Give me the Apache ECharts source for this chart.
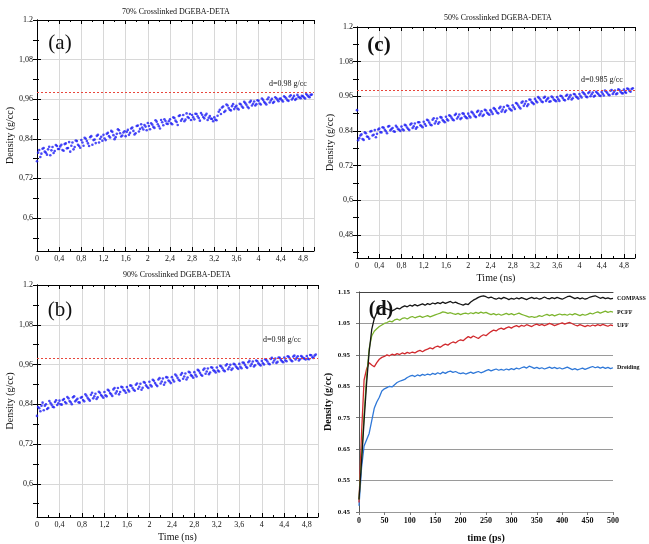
<!DOCTYPE html>
<html><head><meta charset="utf-8">
<script src="https://cdn.jsdelivr.net/npm/echarts@6/dist/echarts.min.js"></script>
<style>html,body{margin:0;padding:0;background:#fff}#c{width:649px;height:544px}</style>
</head><body><div id="c"></div>
<script>
// ---------- data: panels (a), (b), (c): density vs time (ns) ----------
// first reading set: every 0.04 ns starting at 0; second set: every 0.04 ns starting at 0.02
const densA = [
0.772,0.806,0.795,0.812,0.798,0.808,0.790,0.815,0.803,0.818,
0.809,0.822,0.804,0.826,0.812,0.801,0.829,0.815,0.833,0.818,
0.836,0.819,0.840,0.826,0.845,0.822,0.838,0.849,0.829,0.846,
0.852,0.836,0.858,0.844,0.861,0.839,0.855,0.866,0.847,0.859,
0.848,0.867,0.858,0.874,0.853,0.879,0.862,0.884,0.868,0.877,
0.888,0.869,0.883,0.873,0.892,0.878,0.897,0.881,0.894,0.885,
0.899,0.884,0.903,0.891,0.909,0.895,0.912,0.898,0.906,0.915,
0.912,0.899,0.915,0.903,0.918,0.906,0.911,0.897,0.909,0.900,
0.905,0.896,0.922,0.915,0.938,0.925,0.941,0.928,0.939,0.930,
0.940,0.929,0.944,0.934,0.948,0.937,0.951,0.941,0.953,0.945,
0.955,0.944,0.958,0.948,0.960,0.950,0.961,0.952,0.963,0.954,
0.962,0.953,0.966,0.957,0.968,0.959,0.970,0.961,0.967,0.963,
0.969,0.962,0.972,0.966,0.974];
const densA2 = [
0.798,0.785,0.810,0.801,0.792,0.816,0.805,0.797,0.821,0.809,
0.817,0.806,0.824,0.811,0.830,0.819,0.808,0.835,0.822,0.813,
0.829,0.843,0.833,0.818,0.848,0.836,0.827,0.852,0.840,0.834,
0.841,0.855,0.848,0.864,0.851,0.845,0.869,0.857,0.850,0.863,
0.861,0.852,0.871,0.864,0.857,0.880,0.870,0.874,0.882,0.866,
0.879,0.887,0.876,0.896,0.884,0.871,0.890,0.899,0.886,0.893,
0.887,0.905,0.895,0.882,0.911,0.900,0.893,0.917,0.903,0.897,
0.905,0.916,0.908,0.895,0.913,0.902,0.916,0.904,0.901,0.893,
0.898,0.910,0.928,0.935,0.921,0.944,0.933,0.926,0.945,0.936,
0.932,0.946,0.938,0.952,0.943,0.933,0.955,0.946,0.941,0.957,
0.947,0.962,0.952,0.944,0.965,0.956,0.949,0.966,0.958,0.961,
0.957,0.969,0.962,0.955,0.972,0.964,0.958,0.973,0.965,0.970,
0.965,0.976,0.968,0.973];
const densB = [
0.805,0.828,0.836,0.822,0.840,0.829,0.844,0.833,0.847,0.838,
0.851,0.839,0.856,0.843,0.858,0.846,0.861,0.849,0.857,0.845,
0.862,0.849,0.866,0.855,0.869,0.858,0.872,0.861,0.875,0.864,
0.877,0.864,0.881,0.870,0.885,0.873,0.889,0.877,0.891,0.880,
0.892,0.879,0.896,0.884,0.899,0.887,0.902,0.890,0.905,0.893,
0.908,0.894,0.911,0.899,0.915,0.903,0.918,0.906,0.921,0.909,
0.922,0.909,0.926,0.914,0.929,0.917,0.933,0.921,0.936,0.925,
0.937,0.924,0.941,0.929,0.944,0.932,0.948,0.936,0.950,0.940,
0.951,0.939,0.954,0.943,0.957,0.946,0.959,0.948,0.960,0.950,
0.962,0.949,0.965,0.953,0.967,0.956,0.969,0.958,0.970,0.960,
0.971,0.960,0.974,0.963,0.977,0.966,0.978,0.968,0.980,0.970,
0.981,0.970,0.983,0.973,0.984,0.975,0.985,0.976,0.983,0.978,
0.986,0.976,0.988,0.980,0.990];
const densB2 = [
0.832,0.819,0.845,0.836,0.826,0.850,0.839,0.831,0.852,0.843,
0.840,0.853,0.847,0.862,0.850,0.840,0.864,0.853,0.846,0.860,
0.853,0.870,0.860,0.851,0.875,0.864,0.856,0.878,0.868,0.860,
0.867,0.884,0.874,0.865,0.889,0.879,0.870,0.893,0.883,0.875,
0.884,0.897,0.889,0.881,0.903,0.893,0.884,0.907,0.897,0.889,
0.898,0.914,0.904,0.895,0.919,0.909,0.899,0.922,0.912,0.904,
0.914,0.930,0.920,0.911,0.934,0.924,0.915,0.938,0.928,0.920,
0.929,0.944,0.935,0.926,0.948,0.939,0.931,0.952,0.943,0.936,
0.942,0.956,0.949,0.940,0.961,0.952,0.944,0.962,0.954,0.947,
0.953,0.966,0.959,0.950,0.971,0.962,0.954,0.972,0.964,0.957,
0.964,0.976,0.969,0.961,0.980,0.972,0.965,0.981,0.974,0.967,
0.973,0.985,0.978,0.970,0.987,0.980,0.972,0.986,0.979,0.975,
0.978,0.989,0.982,0.987];
const densC = [
0.912,0.815,0.828,0.809,0.832,0.819,0.838,0.824,0.843,0.830,
0.848,0.835,0.851,0.839,0.855,0.842,0.850,0.837,0.853,0.844,
0.855,0.842,0.859,0.847,0.862,0.850,0.866,0.853,0.870,0.857,
0.872,0.858,0.876,0.862,0.879,0.866,0.883,0.870,0.886,0.874,
0.889,0.876,0.892,0.880,0.895,0.883,0.897,0.885,0.899,0.887,
0.900,0.887,0.903,0.891,0.906,0.894,0.908,0.896,0.911,0.899,
0.912,0.899,0.916,0.904,0.919,0.907,0.923,0.911,0.926,0.914,
0.929,0.916,0.934,0.922,0.938,0.927,0.943,0.932,0.948,0.937,
0.951,0.939,0.953,0.942,0.955,0.944,0.954,0.943,0.956,0.946,
0.957,0.944,0.960,0.948,0.962,0.951,0.964,0.953,0.966,0.956,
0.968,0.956,0.970,0.959,0.971,0.960,0.973,0.962,0.972,0.963,
0.975,0.963,0.977,0.966,0.979,0.968,0.980,0.970,0.982,0.971,
0.983,0.972,0.985,0.976,0.988];
const densC2 = [
0.808,0.824,0.812,0.835,0.821,0.813,0.840,0.827,0.818,0.845,
0.836,0.853,0.844,0.832,0.857,0.847,0.839,0.858,0.846,0.840,
0.846,0.861,0.852,0.843,0.866,0.856,0.848,0.870,0.860,0.853,
0.864,0.879,0.869,0.860,0.884,0.873,0.865,0.888,0.878,0.870,
0.880,0.894,0.886,0.877,0.899,0.889,0.881,0.901,0.891,0.884,
0.892,0.906,0.897,0.888,0.910,0.900,0.892,0.913,0.903,0.896,
0.906,0.919,0.910,0.901,0.924,0.914,0.906,0.928,0.918,0.911,
0.922,0.937,0.928,0.918,0.942,0.934,0.926,0.949,0.940,0.933,
0.944,0.957,0.948,0.940,0.958,0.950,0.941,0.959,0.949,0.943,
0.950,0.962,0.954,0.946,0.965,0.957,0.949,0.968,0.959,0.952,
0.961,0.974,0.966,0.957,0.975,0.967,0.959,0.976,0.968,0.961,
0.969,0.980,0.972,0.964,0.982,0.974,0.967,0.984,0.976,0.970,
0.975,0.987,0.979,0.985];
const targetA = 0.98, targetB = 0.98, targetC = 0.985;
const titleA = '70% Crosslinked DGEBA-DETA';
const titleB = '90% Crosslinked DGEBA-DETA';
const titleC = '50% Crosslinked DGEBA-DETA';
const noteA = 'd=0.98 g/cc', noteB = 'd=0.98 g/cc', noteC = 'd=0.985 g/cc';
const xTickLabels = ['0','0,4','0,8','1,2','1,6','2','2,4','2,8','3,2','3,6','4','4,4','4,8'];
const yTickValsAB = [0.6,0.72,0.84,0.96,1.08,1.2];
const yTickLabelsA = ['0,6','0,72','0,84','0,96','1,08','1.2'];
const yTickLabelsB = ['0,6','0,72','0,84','0,96','1,08','1.2'];
const yMinorAB = [0.54,0.66,0.78,0.9,1.02,1.14];
const yTickValsC = [0.48,0.6,0.72,0.84,0.96,1.08,1.2];
const yTickLabelsC = ['0,48','0,6','0.72','0.84','0.96','1.08','1.2'];
const yMinorC = [0.42,0.54,0.66,0.78,0.9,1.02,1.14];

// ---------- data: panel (d): density vs time (ps), every 5 ps ----------
const compass = [
0.490,0.610,0.740,0.860,0.960,1.030,1.065,1.085,1.097,1.102,
1.100,1.096,1.093,1.090,1.094,1.099,1.096,1.102,1.106,1.103,
1.108,1.105,1.110,1.106,1.109,1.112,1.108,1.113,1.110,1.115,
1.112,1.116,1.113,1.118,1.114,1.117,1.120,1.115,1.118,1.114,
1.111,1.108,1.112,1.110,1.118,1.124,1.128,1.133,1.136,1.138,
1.135,1.131,1.134,1.130,1.127,1.131,1.128,1.133,1.130,1.126,
1.130,1.127,1.131,1.128,1.132,1.129,1.126,1.130,1.133,1.129,
1.131,1.127,1.130,1.134,1.130,1.128,1.132,1.129,1.133,1.130,
1.127,1.131,1.135,1.137,1.133,1.129,1.132,1.128,1.131,1.127,
1.130,1.134,1.136,1.138,1.134,1.130,1.133,1.129,1.131,1.128,
1.130];
const pcff = [
0.490,0.620,0.760,0.880,0.970,1.010,1.025,1.033,1.040,1.045,
1.050,1.053,1.057,1.055,1.061,1.064,1.060,1.066,1.068,1.064,
1.069,1.072,1.068,1.071,1.073,1.069,1.072,1.075,1.071,1.074,
1.077,1.080,1.083,1.087,1.085,1.082,1.084,1.081,1.079,1.082,
1.078,1.081,1.083,1.080,1.084,1.081,1.085,1.082,1.086,1.083,
1.085,1.081,1.078,1.081,1.077,1.080,1.076,1.079,1.082,1.078,
1.081,1.077,1.080,1.083,1.079,1.076,1.073,1.070,1.072,1.069,
1.071,1.075,1.072,1.076,1.079,1.075,1.078,1.074,1.077,1.080,
1.077,1.079,1.076,1.080,1.077,1.081,1.078,1.075,1.079,1.076,
1.079,1.083,1.080,1.084,1.087,1.083,1.086,1.089,1.085,1.088,
1.086];
const uff = [
0.480,0.700,0.870,0.905,0.925,0.918,0.912,0.925,0.936,0.942,
0.945,0.950,0.947,0.952,0.949,0.954,0.951,0.956,0.953,0.958,
0.955,0.959,0.956,0.961,0.964,0.960,0.965,0.968,0.972,0.969,
0.975,0.978,0.974,0.980,0.984,0.981,0.987,0.991,0.988,0.994,
0.998,0.995,1.002,1.008,1.004,1.010,1.006,1.002,1.009,1.014,
1.011,1.018,1.024,1.029,1.026,1.032,1.035,1.031,1.036,1.039,
1.035,1.040,1.043,1.039,1.044,1.041,1.046,1.043,1.040,1.045,
1.048,1.044,1.047,1.043,1.046,1.050,1.047,1.043,1.046,1.049,
1.052,1.048,1.051,1.053,1.049,1.045,1.042,1.046,1.043,1.040,
1.044,1.041,1.045,1.042,1.046,1.043,1.047,1.044,1.041,1.045,
1.043];
const dreiding = [
0.470,0.590,0.660,0.680,0.700,0.740,0.780,0.800,0.815,0.835,
0.842,0.846,0.850,0.848,0.855,0.862,0.866,0.869,0.872,0.878,
0.882,0.885,0.881,0.886,0.883,0.888,0.885,0.889,0.886,0.891,
0.888,0.893,0.889,0.895,0.891,0.896,0.898,0.894,0.897,0.893,
0.890,0.893,0.889,0.892,0.895,0.891,0.894,0.897,0.893,0.896,
0.900,0.903,0.899,0.902,0.905,0.901,0.904,0.901,0.905,0.902,
0.906,0.903,0.908,0.905,0.909,0.912,0.908,0.914,0.911,0.907,
0.910,0.906,0.909,0.905,0.908,0.911,0.907,0.910,0.906,0.909,
0.905,0.908,0.911,0.907,0.903,0.906,0.902,0.905,0.908,0.904,
0.907,0.910,0.913,0.909,0.912,0.908,0.911,0.907,0.910,0.906,
0.909];
const seriesNamesD = ['COMPASS','PCFF','UFF','Dreiding'];
const yTickValsD = [0.45,0.55,0.65,0.75,0.85,0.95,1.05,1.15];
const yTickLabelsD = ['0.45','0.55','0.65','0.75','0.85','0.95','1.05','1.15'];
const xTickLabelsD = ['0','50','100','150','200','250','300','350','400','450','500'];

// ---------- chart ----------
const SERIF = 'Liberation Serif';
const pairsNs = (arr, start) => arr.map((v, i) => [Math.round(start * 100 + i * 4) / 100, v]);
const pairsPs = arr => arr.map((v, i) => [i * 5, v]);
const fmtFrom = (vals, labels) => v => {
  const i = vals.findIndex(x => Math.abs(x - v) < 1e-6);
  return i >= 0 ? labels[i] : '';
};

const grids = [
  {left: 37, top: 20, width: 277, height: 231},   // (a)
  {left: 37, top: 285, width: 281, height: 232},  // (b)
  {left: 357, top: 27, width: 278, height: 231},  // (c)
  {left: 359, top: 292, width: 254, height: 223}  // (d)
];
const xAxes = [], yAxes = [], series = [];

function scatterPanel(g, dens, dens2, target, yMin, yVals, yLabels, yMinor, xName) {
  const axisLine = {show: true, lineStyle: {color: '#000', width: 1}};
  xAxes.push({
    gridIndex: g, type: 'value', min: 0, max: 5, interval: 0.4, position: 'bottom',
    name: xName, nameLocation: 'middle', nameGap: 15,
    nameTextStyle: {fontFamily: SERIF, fontSize: 10, color: '#111'},
    axisLine, axisTick: {inside: true, length: 4, lineStyle: {color: '#000'}},
    minorTick: {show: true, splitNumber: 2, length: 2, lineStyle: {color: '#000'}},
    axisLabel: {fontFamily: SERIF, fontSize: 8, color: '#111', margin: 4,
      showMaxLabel: false, hideOverlap: false,
      formatter: v => { const i = Math.round(v / 0.4); return Math.abs(v - i * 0.4) < 1e-6 && i < xTickLabels.length ? xTickLabels[i] : ''; }},
    splitLine: {show: true, lineStyle: {color: '#d8d8d8', width: 1}}
  });
  xAxes.push({
    gridIndex: g, type: 'value', min: 0, max: 5, interval: 0.4, position: 'top',
    axisLine, axisTick: {inside: true, length: 4, lineStyle: {color: '#000'}},
    minorTick: {show: true, splitNumber: 2, length: 2, lineStyle: {color: '#000'}},
    axisLabel: {show: false}, splitLine: {show: false}
  });
  yAxes.push({
    gridIndex: g, type: 'value', min: yMin, max: 1.2, position: 'left',
    name: 'Density (g/cc)', nameLocation: 'middle', nameGap: 20,
    nameTextStyle: {fontFamily: SERIF, fontSize: 10, color: '#111'},
    axisLine, axisTick: {inside: true, length: 4, customValues: yVals, lineStyle: {color: '#000'}},
    axisLabel: {fontFamily: SERIF, fontSize: 8, color: '#111', margin: 4, customValues: yVals,
      formatter: fmtFrom(yVals, yLabels)},
    splitLine: {show: true, lineStyle: {color: '#d8d8d8', width: 1}}
  });
  yAxes.push({
    gridIndex: g, type: 'value', min: yMin, max: 1.2, position: 'right',
    axisLine, axisTick: {inside: true, length: 4, customValues: yVals.concat(yMinor), lineStyle: {color: '#000'}},
    axisLabel: {show: false}, splitLine: {show: false}
  });
  yAxes.push({
    gridIndex: g, type: 'value', min: yMin, max: 1.2, position: 'left',
    axisLine: {show: false}, axisTick: {inside: true, length: 2, customValues: yMinor, lineStyle: {color: '#000'}},
    axisLabel: {show: false}, splitLine: {show: false}
  });
  const base = {type: 'scatter', xAxisIndex: 2 * g, yAxisIndex: 3 * g, symbol: 'circle',
    symbolSize: 2.6, itemStyle: {color: '#1e1ef5'}, silent: true};
  series.push(Object.assign({}, base, {data: pairsNs(dens2, 0.02)}));
  series.push(Object.assign({}, base, {data: pairsNs(dens, 0),
    markLine: {silent: true, symbol: 'none', label: {show: false},
      lineStyle: {color: '#e8463c', type: [2, 2], width: 1},
      data: [{yAxis: target}]}}));
}

scatterPanel(0, densA, densA2, targetA, 0.5, yTickValsAB, yTickLabelsA, yMinorAB, '');
scatterPanel(1, densB, densB2, targetB, 0.5, yTickValsAB, yTickLabelsB, yMinorAB, 'Time (ns)');
scatterPanel(2, densC, densC2, targetC, 0.4, yTickValsC, yTickLabelsC, yMinorC, 'Time (ns)');

// panel (d)
xAxes.push({
  gridIndex: 3, type: 'value', min: 0, max: 500, interval: 50, position: 'bottom',
  name: 'time (ps)', nameLocation: 'middle', nameGap: 21,
  nameTextStyle: {fontFamily: SERIF, fontSize: 10, fontWeight: 'bold', color: '#111'},
  axisLine: {show: true, lineStyle: {color: '#999'}},
  axisTick: {show: true, inside: false, length: 3, lineStyle: {color: '#777'}},
  axisLabel: {fontFamily: SERIF, fontSize: 8, fontWeight: 'bold', color: '#111', margin: 5,
    formatter: v => xTickLabelsD[Math.round(v / 50)] || ''},
  splitLine: {show: false}
});
xAxes.push({
  gridIndex: 3, type: 'value', min: 0, max: 500, position: 'top',
  axisLine: {show: true, lineStyle: {color: '#444'}}, axisTick: {show: false},
  axisLabel: {show: false}, splitLine: {show: false}
});
yAxes.push({
  gridIndex: 3, type: 'value', min: 0.45, max: 1.15, position: 'left',
  name: 'Density (g/cc)', nameLocation: 'middle', nameGap: 22,
  nameTextStyle: {fontFamily: SERIF, fontSize: 10, fontWeight: 'bold', color: '#111'},
  axisLine: {show: true, lineStyle: {color: '#aaa'}},
  axisTick: {show: true, inside: false, length: 3, customValues: yTickValsD, lineStyle: {color: '#777'}},
  axisLabel: {fontFamily: SERIF, fontSize: 7, fontWeight: 'bold', color: '#111', margin: 9,
    customValues: yTickValsD, formatter: fmtFrom(yTickValsD, yTickLabelsD)},
  splitLine: {show: true, lineStyle: {color: '#9a9a9a', width: 1}}
});
yAxes.push({
  gridIndex: 3, type: 'value', min: 0.45, max: 1.15, position: 'right',
  axisLine: {show: true, lineStyle: {color: '#555'}}, axisTick: {show: false},
  axisLabel: {show: false}, splitLine: {show: false}
});
const dSeries = [
  {name: seriesNamesD[3], data: dreiding, color: '#2f78d8'},
  {name: seriesNamesD[2], data: uff, color: '#d12a2e'},
  {name: seriesNamesD[1], data: pcff, color: '#7db52f'},
  {name: seriesNamesD[0], data: compass, color: '#151515'}
];
dSeries.forEach(s => series.push({
  type: 'line', name: s.name, xAxisIndex: 6, yAxisIndex: 9, data: pairsPs(s.data),
  showSymbol: false, symbol: 'none', silent: true,
  lineStyle: {color: s.color, width: 1.3}, itemStyle: {color: s.color},
  endLabel: {show: true, formatter: '{a}', distance: 4, fontFamily: SERIF, fontSize: 6,
    fontWeight: 'bold', color: '#111'}
}));

const txt = (x, y, text, size, extra) => Object.assign({
  type: 'text', x, y, style: Object.assign({text, fontFamily: SERIF, fontSize: size, fill: '#111',
    align: 'center', verticalAlign: 'middle'}, extra || {}), z: 100
});

const chart = echarts.init(document.getElementById('c'), null, {renderer: 'canvas'});
chart.setOption({
  animation: false,
  backgroundColor: '#fff',
  grid: grids.map(g => Object.assign({containLabel: false}, g)),
  xAxis: xAxes, yAxis: yAxes, series,
  graphic: [
    txt(176, 12, titleA, 8),
    txt(177, 275, titleB, 8),
    txt(498, 18, titleC, 8),
    txt(288, 84, noteA, 8),
    txt(282, 340, noteB, 8),
    txt(602, 80, noteC, 8),
    txt(60, 43, '(a)', 21),
    txt(60, 310, '(b)', 21),
    txt(379, 46, '(c)', 21, {fontWeight: 'bold'}),
    txt(381, 310, '(d)', 20, {fontWeight: 'bold'})
  ]
});
</script></body></html>
